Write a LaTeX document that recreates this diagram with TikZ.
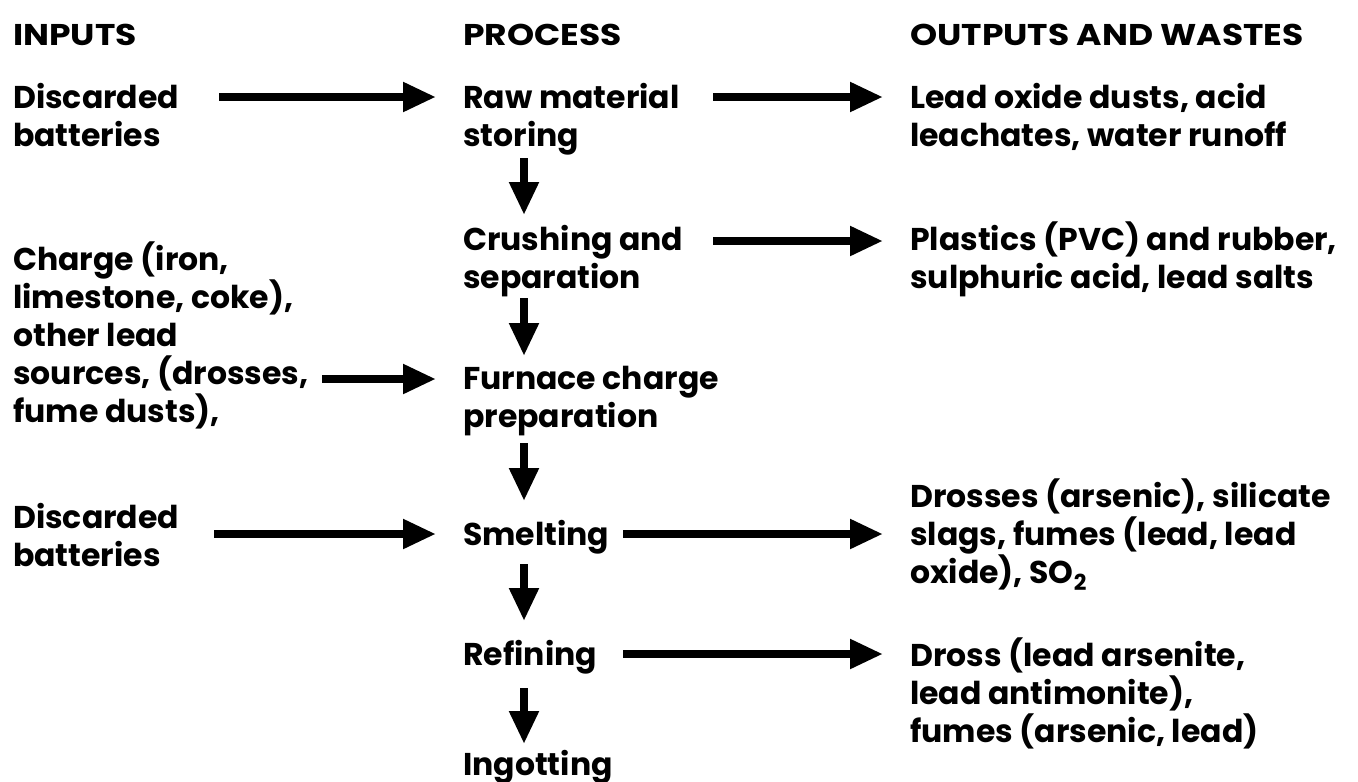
\documentclass[tikz,border=0pt]{standalone}
\usepackage{fontspec}
\setmainfont{Poppins}[BoldFont={* Bold}]
\newfontfamily\hdrfont{Poppins}[UprightFont={* Bold},FakeStretch=1.15]
\usetikzlibrary{arrows.meta}
\begin{document}
\begin{tikzpicture}[x=1pt,y=-1pt,
  txt/.style={anchor=base west,inner sep=0pt,align=left,
    font=\bfseries\fontsize{31.5}{38}\selectfont},
  hdr/.style={anchor=base west,inner sep=0pt,
    font=\hdrfont\fontsize{30}{34}\selectfont},
  arr/.style={line width=8pt,-{Triangle[length=33pt,width=28pt]}}]
\useasboundingbox (0,0) rectangle (1358,782);
% headers
\node[hdr] (hin)  at (13,45)  {INPUTS};
\node[hdr] (hpr)  at (463,45) {PROCESS};
\node[hdr] (hout) at (910,45) {OUTPUTS AND WASTES};
% inputs (anchor = baseline of last line)
\node[txt] (in1) at (13,146) {Discarded\\batteries};
\node[txt] (in2) at (13,422) {Charge (iron,\\limestone, coke),\\other lead\\sources, (drosses,\\fume dusts),};
\node[txt] (in3) at (13,566) {Discarded\\batteries};
% process
\node[txt] (raw)  at (463,146) {Raw material\\storing};
\node[txt] (cru)  at (463,288) {Crushing and\\separation};
\node[txt] (fur)  at (463,427) {Furnace charge\\preparation};
\node[txt] (sme)  at (463,545) {Smelting};
\node[txt] (ref)  at (463,665) {Refining};
\node[txt] (ing)  at (463,775) {Ingotting};
% outputs
\node[txt] (o1) at (910,146) {Lead oxide dusts, acid\\leachates, water runoff};
\node[txt] (o2) at (910,288) {Plastics (PVC) and rubber,\\sulphuric acid, lead salts};
\node[txt] (o3) at (910,583) {Drosses (arsenic), silicate\\slags, fumes (lead, lead\\oxide), SO\textsubscript{2}};
\node[txt] (o4) at (910,742) {Dross (lead arsenite,\\lead antimonite),\\fumes (arsenic, lead)};
% arrow rows and columns
\coordinate (y1) at (0,97);
\coordinate (y2) at (0,241);
\coordinate (y3) at (0,379);
\coordinate (y4) at (0,534);
\coordinate (y5) at (0,654);
\coordinate (xa) at (219,0);
\coordinate (xb) at (322,0);
\coordinate (xc) at (214,0);
\coordinate (xd) at (713,0);
\coordinate (xe) at (623,0);
\coordinate (xt) at (436,0);
\coordinate (xu) at (883,0);
\coordinate (dc) at (524,0);
% horizontal arrows: inputs to process, process to outputs
\draw[arr] (xa |- y1) -- (xt |- y1);
\draw[arr] (xb |- y3) -- (xt |- y3);
\draw[arr] (xc |- y4) -- (xt |- y4);
\draw[arr] (xd |- y1) -- (xu |- y1);
\draw[arr] (xd |- y2) -- (xu |- y2);
\draw[arr] (xe |- y4) -- (xu |- y4);
\draw[arr] (xe |- y5) -- (xu |- y5);
% vertical arrows between process steps
\draw[arr] (dc |- 0,158) -- (dc |- 0,215);
\draw[arr] (dc |- 0,298) -- (dc |- 0,356);
\draw[arr] (dc |- 0,443) -- (dc |- 0,501);
\draw[arr] (dc |- 0,564) -- (dc |- 0,621);
\draw[arr] (dc |- 0,688) -- (dc |- 0,744);
\end{tikzpicture}
\end{document}
